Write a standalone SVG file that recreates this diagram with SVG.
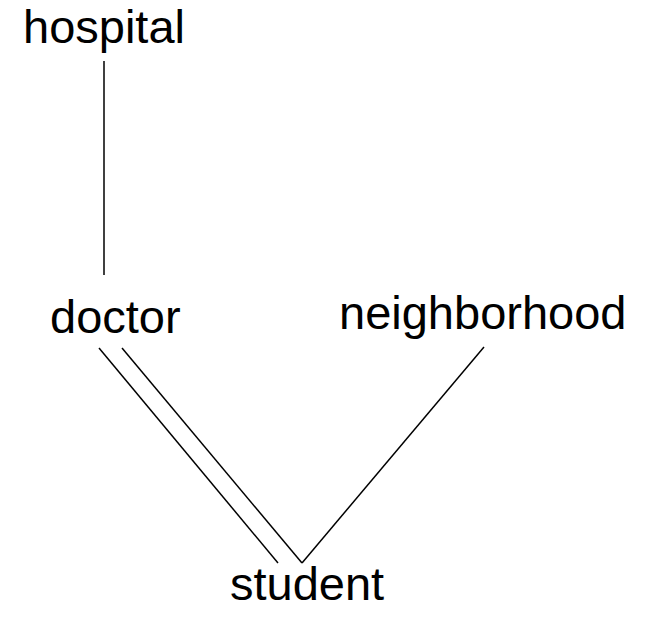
<svg xmlns="http://www.w3.org/2000/svg" width="646" height="618" viewBox="0 0 646 618">
  <style>
    .label { font-family: "Liberation Sans", Arial, sans-serif; font-size: 47px; fill: #000; }
    .edge { stroke: #000; stroke-width: 1.5; fill: none; }
  </style>
  <rect width="646" height="618" fill="#fff"/>
  <g id="connectors">
    <line class="edge" x1="104" y1="61" x2="104" y2="275"/>
    <line class="edge" x1="99" y1="348" x2="278" y2="563"/>
    <line class="edge" x1="122" y1="348" x2="302" y2="563"/>
    <line class="edge" x1="484" y1="347" x2="302" y2="563"/>
  </g>
  <g id="hospital"><text class="label" x="23" y="43">hospital</text></g>
  <g id="doctor"><text class="label" x="50" y="333">doctor</text></g>
  <g id="neighborhood"><text class="label" x="339" y="329">neighborhood</text></g>
  <g id="student"><text class="label" x="230" y="600">student</text></g>
</svg>
